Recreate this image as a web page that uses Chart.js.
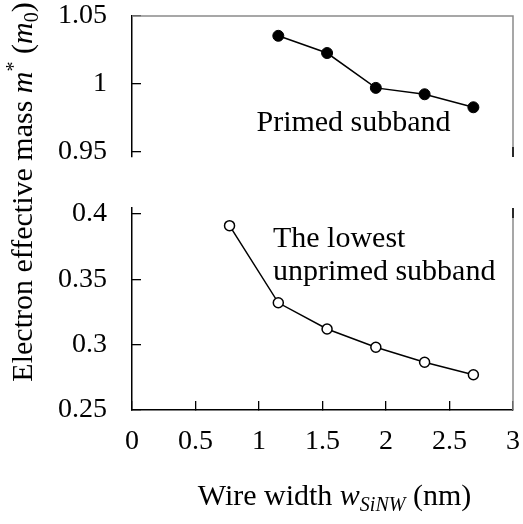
<!DOCTYPE html>
<html><head><meta charset="utf-8">
<script src="https://cdn.jsdelivr.net/npm/chart.js@4/dist/chart.umd.min.js"></script>
<style>html,body{margin:0;padding:0;background:#fff;overflow:hidden}</style>
</head><body>
<canvas id="c" width="523" height="524"></canvas>
<script>
// ---- data ----
const wireWidthUnprimed = [0.768, 1.152, 1.536, 1.92, 2.304, 2.688];
const massUnprimed      = [0.391, 0.332, 0.312, 0.298, 0.2865, 0.277];
const wireWidthPrimed   = [1.152, 1.536, 1.92, 2.304, 2.688];
const massPrimed        = [1.0354, 1.0227, 0.997, 0.9923, 0.9827];
const xTickValues   = [0, 0.5, 1, 1.5, 2, 2.5, 3];
const yTopTickValues = [0.95, 1, 1.05];
const yBotTickValues = [0.25, 0.3, 0.35, 0.4];
const topRange = [0.946, 1.05];
const botRange = [0.25, 0.4046];
const xRange = [0, 3];
const annotations = [
  {text: 'Primed subband', x: 0.98, y: 0.9655, axis: 'yTop'},
  {text: 'The lowest', x: 1.11, y: 0.375, axis: 'yBot'},
  {text: 'unprimed subband', x: 1.11, y: 0.3495, axis: 'yBot'}
];

const FONT = '"Liberation Serif", "Times New Roman", serif';
const TOP_FRAC = 0.358, BOT_FRAC = 0.513;

function richText(ctx, parts, cx, cy) {
  let total = 0;
  parts.forEach(p => { ctx.font = (p.italic ? 'italic ' : '') + p.size + 'px ' + FONT; p.w = ctx.measureText(p.t).width; total += p.w; });
  let x = cx - total / 2;
  ctx.textAlign = 'left'; ctx.textBaseline = 'alphabetic'; ctx.fillStyle = '#000';
  parts.forEach(p => { ctx.font = (p.italic ? 'italic ' : '') + p.size + 'px ' + FONT; ctx.fillText(p.t, x, cy + (p.dy || 0)); x += p.w; });
}

function noPad(s) { s.paddingTop = 0; s.paddingBottom = 0; s.paddingLeft = 0; s.paddingRight = 0; }

const brokenAxis = {
  id: 'brokenAxis',
  afterLayout(chart) {
    const a = chart.chartArea, H = a.bottom - a.top;
    const t = chart.scales.yTop, b = chart.scales.yBot;
    t.top = a.top; t.bottom = a.top + H * TOP_FRAC; t.height = t.bottom - t.top;
    b.bottom = a.bottom; b.top = a.bottom - H * BOT_FRAC; b.height = b.bottom - b.top;
    t.configure(); b.configure();
  },
  afterDraw(chart) {
    const ctx = chart.ctx, x = chart.scales.x, t = chart.scales.yTop, b = chart.scales.yBot;
    ctx.save();
    // frame
    ctx.lineWidth = 1.5; ctx.strokeStyle = '#8a8a8a';
    ctx.beginPath();
    ctx.moveTo(x.left, t.top); ctx.lineTo(x.right, t.top); ctx.lineTo(x.right, t.bottom);
    ctx.moveTo(x.right, b.top); ctx.lineTo(x.right, b.bottom);
    ctx.stroke();
    ctx.strokeStyle = '#000';
    ctx.beginPath();
    ctx.moveTo(x.right, t.bottom - 10); ctx.lineTo(x.right, t.bottom);
    ctx.moveTo(x.right, b.top); ctx.lineTo(x.right, b.top + 10);
    ctx.stroke();
    // annotations
    ctx.fillStyle = '#000'; ctx.font = '30px ' + FONT; ctx.textAlign = 'left'; ctx.textBaseline = 'alphabetic';
    annotations.forEach(an => {
      ctx.fillText(an.text, x.getPixelForValue(an.x), chart.scales[an.axis].getPixelForValue(an.y));
    });
    // x title
    richText(ctx, [
      {t: 'Wire width ', size: 30},
      {t: 'w', size: 30, italic: true},
      {t: 'SiNW', size: 20, italic: true, dy: 6},
      {t: ' (nm)', size: 30}
    ], (x.left + x.right) / 2 + 12, 505);
    // y title
    ctx.translate(32, 192);
    ctx.rotate(-Math.PI / 2);
    richText(ctx, [
      {t: 'Electron effective mass ', size: 30},
      {t: 'm', size: 30, italic: true},
      {t: '*', size: 20, dy: -12},
      {t: ' (', size: 30},
      {t: 'm', size: 30, italic: true},
      {t: '0', size: 20, dy: 6},
      {t: ')', size: 30}
    ], 0, 0);
    ctx.restore();
  }
};

const tickFont = {family: FONT, size: 28};
function yAxis(range, ticks) {
  return {
    type: 'linear', position: 'left', stack: 'v', stackWeight: 1,
    min: range[0], max: range[1],
    afterBuildTicks: s => { s.ticks = ticks.map(v => ({value: v})); },
    afterFit: s => { s.width = 132; noPad(s); },
    grid: {drawOnChartArea: false, drawTicks: true, tickLength: -9, color: '#000', lineWidth: 1.3},
    border: {display: true, color: '#000', width: 1.5},
    ticks: {font: tickFont, color: '#000', padding: 34, callback: v => String(v)}
  };
}

new Chart(document.getElementById('c'), {
  type: 'scatter',
  data: {
    datasets: [
      {
        label: 'Primed subband', yAxisID: 'yTop', showLine: true,
        data: wireWidthPrimed.map((w, i) => ({x: w, y: massPrimed[i]})),
        borderColor: '#000', borderWidth: 1.5,
        pointRadius: 5.5, pointBackgroundColor: '#000', pointBorderColor: '#000', pointBorderWidth: 1
      },
      {
        label: 'The lowest unprimed subband', yAxisID: 'yBot', showLine: true,
        data: wireWidthUnprimed.map((w, i) => ({x: w, y: massUnprimed[i]})),
        borderColor: '#000', borderWidth: 1.5,
        pointRadius: 5, pointBackgroundColor: '#fff', pointBorderColor: '#000', pointBorderWidth: 1.5
      }
    ]
  },
  options: {
    responsive: false, animation: false, events: [],
    layout: {padding: {left: 0, top: 16, right: 10, bottom: 0}},
    plugins: {legend: {display: false}, tooltip: {enabled: false}},
    scales: {
      x: {
        type: 'linear', position: 'bottom', min: xRange[0], max: xRange[1],
        afterBuildTicks: s => { s.ticks = xTickValues.map(v => ({value: v})); },
        afterFit: s => { s.height = 114; noPad(s); },
        grid: {drawOnChartArea: false, drawTicks: true, tickLength: -9, color: '#000', lineWidth: 1.3},
        border: {display: true, color: '#000', width: 1.5},
        ticks: {font: tickFont, color: '#000', padding: 24, maxRotation: 0, autoSkip: false, callback: v => String(v)}
      },
      yTop: yAxis(topRange, yTopTickValues),
      yBot: yAxis(botRange, yBotTickValues)
    }
  },
  plugins: [brokenAxis]
});
</script>
</body></html>
